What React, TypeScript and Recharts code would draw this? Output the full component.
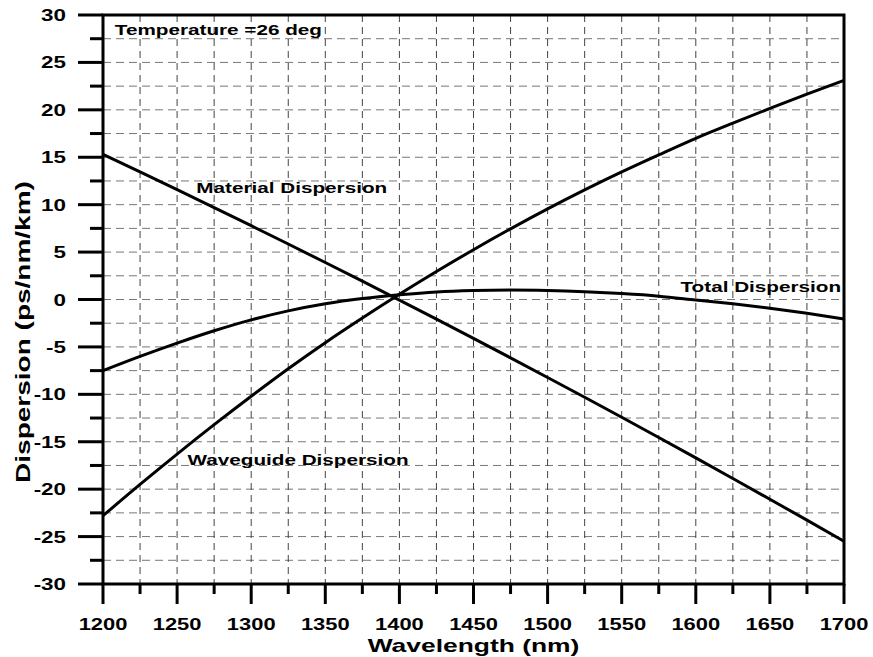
import React from 'react';
import { LineChart, Line, XAxis, YAxis, CartesianGrid, ReferenceArea, ReferenceDot, Label } from 'recharts';

const wavelength = [1200, 1225, 1250, 1275, 1300, 1325, 1350, 1375, 1400, 1425, 1450, 1475, 1500, 1525, 1550, 1575, 1600, 1625, 1650, 1675, 1700];
const materialDispersion = [15.3, 13.45, 11.58, 9.69, 7.78, 5.85, 3.9, 1.93, -0.06, -2.07, -4.1, -6.15, -8.22, -10.31, -12.42, -14.55, -16.7, -18.87, -21.06, -23.27, -25.5];
const waveguideDispersion = [-22.8, -19.5, -16.3, -13.2, -10.2, -7.3, -4.55, -1.95, 0.55, 2.95, 5.25, 7.45, 9.55, 11.55, 13.45, 15.25, 17.0, 18.6, 20.15, 21.65, 23.1];
const totalDispersion = [-7.5, -6.0, -4.6, -3.3, -2.15, -1.2, -0.45, 0.1, 0.5, 0.8, 0.95, 1.0, 0.95, 0.82, 0.62, 0.35, -0.05, -0.45, -0.92, -1.46, -2.06];

const xTicks = [1200, 1225, 1250, 1275, 1300, 1325, 1350, 1375, 1400, 1425, 1450, 1475, 1500, 1525, 1550, 1575, 1600, 1625, 1650, 1675, 1700];
const xLabels = [1200, 1250, 1300, 1350, 1400, 1450, 1500, 1550, 1600, 1650, 1700];
const yTicks = [-30, -27.5, -25, -22.5, -20, -17.5, -15, -12.5, -10, -7.5, -5, -2.5, 0, 2.5, 5, 7.5, 10, 12.5, 15, 17.5, 20, 22.5, 25, 27.5, 30];
const yLabels = [-30, -25, -20, -15, -10, -5, 0, 5, 10, 15, 20, 25, 30];

const data = wavelength.map((wl, i) => ({
  wl,
  material: materialDispersion[i],
  waveguide: waveguideDispersion[i],
  total: totalDispersion[i],
}));

const FONT = '"Liberation Sans", Arial, Helvetica, sans-serif';

// the original text is drawn wide, so stretch it horizontally
const WideText = ({ x, y, size, anchor = 'start', rotate = 0, sx = 1.38, children }: any) => (
  <text
    transform={`translate(${x},${y}) rotate(${rotate}) scale(${sx},1)`}
    textAnchor={anchor}
    fontFamily={FONT}
    fontWeight="bold"
    fontSize={size}
    fill="#000"
  >
    {children}
  </text>
);

const XTick = ({ x, y, payload }: any) => {
  const major = xLabels.includes(payload.value);
  return (
    <g>
      <line x1={x} x2={x} y1={y} y2={y + (major ? 20 : 10)} stroke="#000" strokeWidth={3} />
      {major && <WideText x={x} y={y + 46} size={16} anchor="middle" sx={1.37}>{payload.value}</WideText>}
    </g>
  );
};

const YTick = ({ x, y, payload }: any) => {
  const major = yLabels.includes(payload.value);
  return (
    <g>
      <line x1={x - (major ? 25 : 13)} x2={x} y1={y} y2={y} stroke="#000" strokeWidth={3} />
      {major && <WideText x={x - 37} y={y + 6} size={16} anchor="end" sx={1.4}>{payload.value}</WideText>}
    </g>
  );
};

const textShape = (text: string, anchor = 'start') => (p: any) => (
  <WideText x={p.cx} y={p.cy} size={15} anchor={anchor}>{text}</WideText>
);

export default function App() {
  return (
    <div style={{ width: 873, height: 657 }}>
      <style>{'html,body{margin:0;padding:0;overflow:hidden}'}</style>
      <LineChart width={873} height={657} data={data} margin={{ top: 15, right: 29, left: 0, bottom: 0 }}>
        <CartesianGrid vertical={false} stroke="#777" strokeDasharray="8 5" />
        <CartesianGrid horizontal={false} stroke="#444" strokeDasharray="7 5" />
        <XAxis
          dataKey="wl"
          type="number"
          domain={[1200, 1700]}
          ticks={xTicks}
          interval={0}
          height={73}
          axisLine={false}
          tickLine={false}
          tickSize={0}
          tickMargin={0}
          tick={<XTick />}
        >
          <Label
            content={(p: any) => (
              <WideText x={p.viewBox.x + p.viewBox.width / 2} y={p.viewBox.y + 68} size={19} anchor="middle" sx={1.39}>
                Wavelength (nm)
              </WideText>
            )}
          />
        </XAxis>
        <YAxis
          type="number"
          domain={[-30, 30]}
          ticks={yTicks}
          interval={0}
          width={103}
          axisLine={false}
          tickLine={false}
          tickSize={0}
          tickMargin={0}
          tick={<YTick />}
        >
          <Label
            content={() => (
              <WideText x={30} y={332} size={20} anchor="middle" rotate={-90} sx={1.4}>
                Dispersion (ps/nm/km)
              </WideText>
            )}
          />
        </YAxis>
        <ReferenceArea x1={1200} x2={1700} y1={-30} y2={30} fill="none" stroke="#000" strokeWidth={3} />
        <Line type="monotone" dataKey="material" stroke="#000" strokeWidth={3} dot={false} isAnimationActive={false} />
        <Line type="monotone" dataKey="waveguide" stroke="#000" strokeWidth={3} dot={false} isAnimationActive={false} />
        <Line type="monotone" dataKey="total" stroke="#000" strokeWidth={3} dot={false} isAnimationActive={false} />
        <ReferenceDot x={1208} y={27.9} shape={textShape('Temperature =26 deg')} />
        <ReferenceDot x={1263} y={11.2} shape={textShape('Material Dispersion')} />
        <ReferenceDot x={1257} y={-17.45} shape={textShape('Waveguide Dispersion')} />
        <ReferenceDot x={1698} y={0.82} shape={textShape('Total Dispersion', 'end')} />
      </LineChart>
    </div>
  );
}
